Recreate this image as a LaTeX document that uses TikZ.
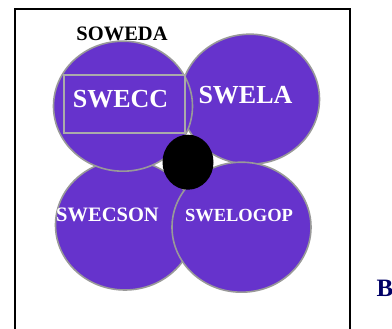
\documentclass[tikz,border=0pt]{standalone}
\usepackage{fontspec}
\setmainfont{Liberation Serif}
\usepackage{xcolor}
\usetikzlibrary{shapes.geometric}

\definecolor{petal}{HTML}{6633CC}
\definecolor{rim}{HTML}{999999}
\definecolor{boxrim}{HTML}{AAAAAA}
\definecolor{navy}{HTML}{000066}

\begin{document}
\begin{tikzpicture}[x=1pt,y=-1pt,
  every node/.style={font=\bfseries,align=center},
  petalblk/.style={ellipse,draw=rim,line width=1.6pt,fill=petal,
                   minimum width=139pt,minimum height=130pt,inner sep=0pt},
  hub/.style   ={ellipse,fill=black,minimum width=51pt,minimum height=55pt,
                 inner sep=0pt},
  tagbox/.style={rectangle,draw=boxrim,line width=1.9pt,minimum width=121pt,
                 minimum height=58pt,inner sep=0pt},
  lab/.style   ={white,inner sep=0pt},
]
\useasboundingbox (0,0) rectangle (392,329);
\clip (0,0) rectangle (392,329);

% outer frame (runs off the bottom)
\coordinate (fbl) at (15,335);
\coordinate (ftl) at (15,9);
\coordinate (ftr) at (350,9);
\coordinate (fbr) at (350,335);
\draw[line width=2pt] (fbl) -- (ftl) -- (ftr) -- (fbr);

% the four petals
\node[petalblk] at (250,99.2)  (swela)    {};
\node[petalblk] at (125,225)   (swecson)  {};
\node[petalblk] at (241.5,227.2) (swelogop) {};
\node[petalblk] at (123,106.2) (swecc)    {};

\node[hub]    at (188,162.2) (centre) {};
\node[tagbox] at (124.2,104.2) (ccbox) {};

\node[lab,font=\bfseries\fontsize{26}{26}\selectfont]   at (120.5,99.5) (tcc)   {SWECC};
\node[lab,font=\bfseries\fontsize{26}{26}\selectfont]   at (245.5,95)   (tla)   {SWELA};
\node[lab,font=\bfseries\fontsize{20.5}{20}\selectfont] at (107.5,215)  (tson)  {SWECSON};
\node[lab,font=\bfseries\fontsize{18.5}{18}\selectfont] at (239,216)    (tlog)  {SWELOGOP};

\node[inner sep=0pt,font=\bfseries\fontsize{20.5}{20}\selectfont] at (122,33.5) (soweda) {SOWEDA};
\node[navy,inner sep=0pt,anchor=west,font=\bfseries\fontsize{25}{25}\selectfont]
  at (376.5,288.5) (bmark) {B};
\end{tikzpicture}
\end{document}
